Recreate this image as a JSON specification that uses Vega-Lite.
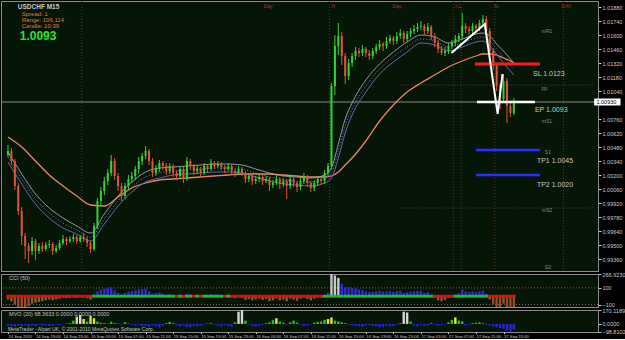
{
"$schema":"https://vega.github.io/schema/vega-lite/v6.json",
"padding":0,
"background":"#000000",
"spacing":3,
"bounds":"flush",
"config":{"view":{"fill":"#061606","stroke":"#8c8c8c","strokeWidth":1},"axis":{"labelFont":"Liberation Sans","labelColor":"#c8c8c8","tickColor":"#c8c8c8","domainColor":"#8c8c8c","grid":false,"labelFontSize":6,"tickSize":3,"labelPadding":1,"labelOverlap":false},"text":{"font":"Liberation Sans"}},
"datasets":{
"bars":[
{"t":"2010-09-14T15:00","o":1.0040,"h":1.0050,"l":1.0038,"c":1.0044,"cci":-40,"mvo":-20},
{"t":"2010-09-14T15:30","o":1.0044,"h":1.0047,"l":1.0030,"c":1.0034,"cci":-60,"mvo":-25},
{"t":"2010-09-14T16:00","o":1.0034,"h":1.0036,"l":1.0005,"c":1.0009,"cci":-100,"mvo":-30},
{"t":"2010-09-14T16:30","o":1.0009,"h":1.0012,"l":0.9980,"c":0.9984,"cci":-130,"mvo":-20},
{"t":"2010-09-14T17:00","o":0.9984,"h":0.9988,"l":0.9950,"c":0.9959,"cci":-150,"mvo":-25},
{"t":"2010-09-14T17:30","o":0.9959,"h":0.9962,"l":0.9936,"c":0.9949,"cci":-140,"mvo":-15},
{"t":"2010-09-14T18:00","o":0.9949,"h":0.9952,"l":0.9932,"c":0.9944,"cci":-120,"mvo":-30},
{"t":"2010-09-14T18:30","o":0.9944,"h":0.9958,"l":0.9940,"c":0.9954,"cci":-90,"mvo":-20},
{"t":"2010-09-14T19:00","o":0.9954,"h":0.9956,"l":0.9935,"c":0.9944,"cci":-80,"mvo":-25},
{"t":"2010-09-14T19:30","o":0.9944,"h":0.9952,"l":0.9941,"c":0.9949,"cci":-70,"mvo":-10},
{"t":"2010-09-14T20:00","o":0.9949,"h":0.9953,"l":0.9943,"c":0.9946,"cci":-60,"mvo":-20},
{"t":"2010-09-14T20:30","o":0.9946,"h":0.9953,"l":0.9944,"c":0.9950,"cci":-50,"mvo":-15},
{"t":"2010-09-14T21:00","o":0.9950,"h":0.9955,"l":0.9947,"c":0.9951,"cci":-40,"mvo":-25},
{"t":"2010-09-14T21:30","o":0.9951,"h":0.9953,"l":0.9940,"c":0.9944,"cci":-50,"mvo":-20},
{"t":"2010-09-14T22:00","o":0.9944,"h":0.9950,"l":0.9942,"c":0.9947,"cci":-40,"mvo":-10},
{"t":"2010-09-14T22:30","o":0.9947,"h":0.9955,"l":0.9945,"c":0.9952,"cci":-30,"mvo":-15},
{"t":"2010-09-14T23:00","o":0.9952,"h":0.9960,"l":0.9950,"c":0.9956,"cci":-20,"mvo":-5},
{"t":"2010-09-14T23:30","o":0.9956,"h":0.9958,"l":0.9950,"c":0.9954,"cci":-25,"mvo":5},
{"t":"2010-09-15T00:00","o":0.9954,"h":0.9959,"l":0.9952,"c":0.9956,"cci":-20,"mvo":10},
{"t":"2010-09-15T00:30","o":0.9956,"h":0.9961,"l":0.9953,"c":0.9958,"cci":-15,"mvo":40},
{"t":"2010-09-15T01:00","o":0.9958,"h":0.9960,"l":0.9951,"c":0.9954,"cci":-20,"mvo":90},
{"t":"2010-09-15T01:30","o":0.9954,"h":0.9960,"l":0.9952,"c":0.9958,"cci":-10,"mvo":110},
{"t":"2010-09-15T02:00","o":0.9958,"h":0.9962,"l":0.9953,"c":0.9956,"cci":-15,"mvo":60},
{"t":"2010-09-15T02:30","o":0.9956,"h":0.9958,"l":0.9948,"c":0.9952,"cci":-25,"mvo":30},
{"t":"2010-09-15T03:00","o":0.9952,"h":0.9954,"l":0.9942,"c":0.9946,"cci":-40,"mvo":100},
{"t":"2010-09-15T03:30","o":0.9946,"h":0.9972,"l":0.9944,"c":0.9969,"cci":20,"mvo":70},
{"t":"2010-09-15T04:00","o":0.9969,"h":0.9997,"l":0.9966,"c":0.9994,"cci":60,"mvo":30},
{"t":"2010-09-15T04:30","o":0.9994,"h":1.0008,"l":0.9990,"c":1.0004,"cci":80,"mvo":15},
{"t":"2010-09-15T05:00","o":1.0004,"h":1.0018,"l":1.0000,"c":1.0014,"cci":90,"mvo":10},
{"t":"2010-09-15T05:30","o":1.0014,"h":1.0026,"l":1.0010,"c":1.0022,"cci":100,"mvo":5},
{"t":"2010-09-15T06:00","o":1.0022,"h":1.0040,"l":1.0019,"c":1.0034,"cci":110,"mvo":25},
{"t":"2010-09-15T06:30","o":1.0034,"h":1.0037,"l":1.0015,"c":1.0019,"cci":70,"mvo":10},
{"t":"2010-09-15T07:00","o":1.0019,"h":1.0022,"l":1.0004,"c":1.0009,"cci":40,"mvo":5},
{"t":"2010-09-15T07:30","o":1.0009,"h":1.0012,"l":0.9994,"c":0.9999,"cci":20,"mvo":-10},
{"t":"2010-09-15T08:00","o":0.9999,"h":1.0012,"l":0.9996,"c":1.0009,"cci":40,"mvo":20},
{"t":"2010-09-15T08:30","o":1.0009,"h":1.0020,"l":1.0005,"c":1.0016,"cci":55,"mvo":5},
{"t":"2010-09-15T09:00","o":1.0016,"h":1.0023,"l":1.0012,"c":1.0019,"cci":60,"mvo":-10},
{"t":"2010-09-15T09:30","o":1.0019,"h":1.0029,"l":1.0015,"c":1.0026,"cci":70,"mvo":-20},
{"t":"2010-09-15T10:00","o":1.0026,"h":1.0038,"l":1.0022,"c":1.0034,"cci":80,"mvo":-15},
{"t":"2010-09-15T10:30","o":1.0034,"h":1.0042,"l":1.0030,"c":1.0039,"cci":85,"mvo":-30},
{"t":"2010-09-15T11:00","o":1.0039,"h":1.0049,"l":1.0036,"c":1.0044,"cci":90,"mvo":-25},
{"t":"2010-09-15T11:30","o":1.0044,"h":1.0046,"l":1.0030,"c":1.0034,"cci":60,"mvo":-35},
{"t":"2010-09-15T12:00","o":1.0034,"h":1.0037,"l":1.0018,"c":1.0022,"cci":30,"mvo":-20},
{"t":"2010-09-15T12:30","o":1.0022,"h":1.0030,"l":1.0019,"c":1.0026,"cci":35,"mvo":-30},
{"t":"2010-09-15T13:00","o":1.0026,"h":1.0035,"l":1.0023,"c":1.0032,"cci":45,"mvo":-40},
{"t":"2010-09-15T13:30","o":1.0032,"h":1.0034,"l":1.0025,"c":1.0029,"cci":30,"mvo":-25},
{"t":"2010-09-15T14:00","o":1.0029,"h":1.0032,"l":1.0020,"c":1.0024,"cci":15,"mvo":10},
{"t":"2010-09-15T14:30","o":1.0024,"h":1.0032,"l":1.0021,"c":1.0029,"cci":25,"mvo":25},
{"t":"2010-09-15T15:00","o":1.0029,"h":1.0031,"l":1.0018,"c":1.0022,"cci":5,"mvo":10},
{"t":"2010-09-15T15:30","o":1.0022,"h":1.0025,"l":1.0015,"c":1.0019,"cci":-10,"mvo":-15},
{"t":"2010-09-15T16:00","o":1.0019,"h":1.0029,"l":1.0016,"c":1.0026,"cci":10,"mvo":-30},
{"t":"2010-09-15T16:30","o":1.0026,"h":1.0028,"l":1.0012,"c":1.0016,"cci":-20,"mvo":-20},
{"t":"2010-09-15T17:00","o":1.0016,"h":1.0038,"l":1.0014,"c":1.0034,"cci":30,"mvo":-35},
{"t":"2010-09-15T17:30","o":1.0034,"h":1.0036,"l":1.0026,"c":1.0029,"cci":20,"mvo":-40},
{"t":"2010-09-15T18:00","o":1.0029,"h":1.0031,"l":1.0020,"c":1.0024,"cci":0,"mvo":-25},
{"t":"2010-09-15T18:30","o":1.0024,"h":1.0030,"l":1.0021,"c":1.0026,"cci":5,"mvo":-30},
{"t":"2010-09-15T19:00","o":1.0026,"h":1.0028,"l":1.0018,"c":1.0022,"cci":-10,"mvo":-20},
{"t":"2010-09-15T19:30","o":1.0022,"h":1.0032,"l":1.0020,"c":1.0029,"cci":15,"mvo":-10},
{"t":"2010-09-15T20:00","o":1.0029,"h":1.0031,"l":1.0022,"c":1.0026,"cci":5,"mvo":5},
{"t":"2010-09-15T20:30","o":1.0026,"h":1.0036,"l":1.0024,"c":1.0032,"cci":25,"mvo":10},
{"t":"2010-09-15T21:00","o":1.0032,"h":1.0034,"l":1.0026,"c":1.0029,"cci":15,"mvo":-10},
{"t":"2010-09-15T21:30","o":1.0029,"h":1.0034,"l":1.0027,"c":1.0031,"cci":20,"mvo":-20},
{"t":"2010-09-15T22:00","o":1.0031,"h":1.0033,"l":1.0025,"c":1.0028,"cci":5,"mvo":-30},
{"t":"2010-09-15T22:30","o":1.0028,"h":1.0030,"l":1.0022,"c":1.0026,"cci":-5,"mvo":-15},
{"t":"2010-09-15T23:00","o":1.0026,"h":1.0032,"l":1.0024,"c":1.0029,"cci":10,"mvo":-25},
{"t":"2010-09-15T23:30","o":1.0029,"h":1.0031,"l":1.0020,"c":1.0024,"cci":-15,"mvo":-35},
{"t":"2010-09-16T00:00","o":1.0024,"h":1.0026,"l":1.0018,"c":1.0022,"cci":-25,"mvo":20},
{"t":"2010-09-16T00:30","o":1.0022,"h":1.0029,"l":1.0020,"c":1.0026,"cci":-10,"mvo":150},
{"t":"2010-09-16T01:00","o":1.0026,"h":1.0028,"l":1.0019,"c":1.0022,"cci":-20,"mvo":170},
{"t":"2010-09-16T01:30","o":1.0022,"h":1.0024,"l":1.0012,"c":1.0016,"cci":-45,"mvo":40},
{"t":"2010-09-16T02:00","o":1.0016,"h":1.0022,"l":1.0013,"c":1.0019,"cci":-35,"mvo":-10},
{"t":"2010-09-16T02:30","o":1.0019,"h":1.0021,"l":1.0010,"c":1.0014,"cci":-50,"mvo":-25},
{"t":"2010-09-16T03:00","o":1.0014,"h":1.0019,"l":1.0011,"c":1.0016,"cci":-40,"mvo":-30},
{"t":"2010-09-16T03:30","o":1.0016,"h":1.0021,"l":1.0013,"c":1.0018,"cci":-30,"mvo":-20},
{"t":"2010-09-16T04:00","o":1.0018,"h":1.0020,"l":1.0010,"c":1.0014,"cci":-45,"mvo":-15},
{"t":"2010-09-16T04:30","o":1.0014,"h":1.0019,"l":1.0012,"c":1.0016,"cci":-35,"mvo":10},
{"t":"2010-09-16T05:00","o":1.0016,"h":1.0018,"l":1.0004,"c":1.0010,"cci":-60,"mvo":20},
{"t":"2010-09-16T05:30","o":1.0010,"h":1.0015,"l":1.0007,"c":1.0012,"cci":-50,"mvo":45},
{"t":"2010-09-16T06:00","o":1.0012,"h":1.0020,"l":1.0010,"c":1.0016,"cci":-30,"mvo":70},
{"t":"2010-09-16T06:30","o":1.0016,"h":1.0018,"l":1.0006,"c":1.0011,"cci":-50,"mvo":30},
{"t":"2010-09-16T07:00","o":1.0011,"h":1.0017,"l":1.0008,"c":1.0014,"cci":-40,"mvo":15},
{"t":"2010-09-16T07:30","o":1.0014,"h":1.0016,"l":0.9996,"c":1.0009,"cci":-60,"mvo":-10},
{"t":"2010-09-16T08:00","o":1.0009,"h":1.0019,"l":1.0006,"c":1.0016,"cci":-30,"mvo":20},
{"t":"2010-09-16T08:30","o":1.0016,"h":1.0018,"l":1.0008,"c":1.0012,"cci":-40,"mvo":40},
{"t":"2010-09-16T09:00","o":1.0012,"h":1.0014,"l":1.0003,"c":1.0008,"cci":-55,"mvo":15},
{"t":"2010-09-16T09:30","o":1.0008,"h":1.0017,"l":1.0005,"c":1.0014,"cci":-30,"mvo":-15},
{"t":"2010-09-16T10:00","o":1.0014,"h":1.0022,"l":1.0011,"c":1.0018,"cci":-15,"mvo":-25},
{"t":"2010-09-16T10:30","o":1.0018,"h":1.0020,"l":1.0008,"c":1.0012,"cci":-35,"mvo":-20},
{"t":"2010-09-16T11:00","o":1.0012,"h":1.0014,"l":1.0003,"c":1.0007,"cci":-50,"mvo":-10},
{"t":"2010-09-16T11:30","o":1.0007,"h":1.0015,"l":1.0004,"c":1.0012,"cci":-30,"mvo":15},
{"t":"2010-09-16T12:00","o":1.0012,"h":1.0019,"l":1.0009,"c":1.0016,"cci":-15,"mvo":25},
{"t":"2010-09-16T12:30","o":1.0016,"h":1.0018,"l":1.0010,"c":1.0014,"cci":-20,"mvo":30},
{"t":"2010-09-16T13:00","o":1.0014,"h":1.0025,"l":1.0011,"c":1.0022,"cci":15,"mvo":50},
{"t":"2010-09-16T13:30","o":1.0022,"h":1.0032,"l":1.0019,"c":1.0029,"cci":40,"mvo":60},
{"t":"2010-09-16T14:00","o":1.0029,"h":1.0112,"l":1.0025,"c":1.0109,"cci":267,"mvo":80},
{"t":"2010-09-16T14:30","o":1.0109,"h":1.0160,"l":1.0100,"c":1.0149,"cci":250,"mvo":40},
{"t":"2010-09-16T15:00","o":1.0149,"h":1.0172,"l":1.0140,"c":1.0159,"cci":220,"mvo":30},
{"t":"2010-09-16T15:30","o":1.0159,"h":1.0163,"l":1.0130,"c":1.0139,"cci":150,"mvo":20},
{"t":"2010-09-16T16:00","o":1.0139,"h":1.0142,"l":1.0111,"c":1.0119,"cci":110,"mvo":10},
{"t":"2010-09-16T16:30","o":1.0119,"h":1.0136,"l":1.0115,"c":1.0132,"cci":110,"mvo":-10},
{"t":"2010-09-16T17:00","o":1.0132,"h":1.0142,"l":1.0128,"c":1.0139,"cci":100,"mvo":-20},
{"t":"2010-09-16T17:30","o":1.0139,"h":1.0148,"l":1.0135,"c":1.0144,"cci":95,"mvo":-25},
{"t":"2010-09-16T18:00","o":1.0144,"h":1.0147,"l":1.0138,"c":1.0142,"cci":80,"mvo":-30},
{"t":"2010-09-16T18:30","o":1.0142,"h":1.0150,"l":1.0139,"c":1.0146,"cci":75,"mvo":-35},
{"t":"2010-09-16T19:00","o":1.0146,"h":1.0148,"l":1.0138,"c":1.0142,"cci":60,"mvo":-20},
{"t":"2010-09-16T19:30","o":1.0142,"h":1.0145,"l":1.0135,"c":1.0139,"cci":50,"mvo":-15},
{"t":"2010-09-16T20:00","o":1.0139,"h":1.0147,"l":1.0136,"c":1.0144,"cci":55,"mvo":-25},
{"t":"2010-09-16T20:30","o":1.0144,"h":1.0151,"l":1.0141,"c":1.0148,"cci":60,"mvo":-30},
{"t":"2010-09-16T21:00","o":1.0148,"h":1.0155,"l":1.0145,"c":1.0151,"cci":65,"mvo":-40},
{"t":"2010-09-16T21:30","o":1.0151,"h":1.0153,"l":1.0144,"c":1.0149,"cci":55,"mvo":-35},
{"t":"2010-09-16T22:00","o":1.0149,"h":1.0158,"l":1.0146,"c":1.0154,"cci":60,"mvo":-20},
{"t":"2010-09-16T22:30","o":1.0154,"h":1.0160,"l":1.0151,"c":1.0157,"cci":65,"mvo":-30},
{"t":"2010-09-16T23:00","o":1.0157,"h":1.0159,"l":1.0150,"c":1.0154,"cci":50,"mvo":-25},
{"t":"2010-09-16T23:30","o":1.0154,"h":1.0163,"l":1.0151,"c":1.0159,"cci":60,"mvo":-10},
{"t":"2010-09-17T00:00","o":1.0159,"h":1.0166,"l":1.0156,"c":1.0162,"cci":65,"mvo":10},
{"t":"2010-09-17T00:30","o":1.0162,"h":1.0164,"l":1.0152,"c":1.0156,"cci":40,"mvo":150},
{"t":"2010-09-17T01:00","o":1.0156,"h":1.0164,"l":1.0153,"c":1.0161,"cci":50,"mvo":140},
{"t":"2010-09-17T01:30","o":1.0161,"h":1.0167,"l":1.0158,"c":1.0164,"cci":55,"mvo":30},
{"t":"2010-09-17T02:00","o":1.0164,"h":1.0170,"l":1.0161,"c":1.0166,"cci":60,"mvo":-20},
{"t":"2010-09-17T02:30","o":1.0166,"h":1.0172,"l":1.0163,"c":1.0168,"cci":65,"mvo":-30},
{"t":"2010-09-17T03:00","o":1.0168,"h":1.0174,"l":1.0165,"c":1.0169,"cci":65,"mvo":-15},
{"t":"2010-09-17T03:30","o":1.0169,"h":1.0171,"l":1.0160,"c":1.0164,"cci":40,"mvo":-25},
{"t":"2010-09-17T04:00","o":1.0164,"h":1.0172,"l":1.0161,"c":1.0168,"cci":50,"mvo":-20},
{"t":"2010-09-17T04:30","o":1.0168,"h":1.0170,"l":1.0155,"c":1.0159,"cci":20,"mvo":10},
{"t":"2010-09-17T05:00","o":1.0159,"h":1.0162,"l":1.0148,"c":1.0152,"cci":-20,"mvo":-10},
{"t":"2010-09-17T05:30","o":1.0152,"h":1.0155,"l":1.0142,"c":1.0146,"cci":-50,"mvo":-20},
{"t":"2010-09-17T06:00","o":1.0146,"h":1.0149,"l":1.0140,"c":1.0142,"cci":-60,"mvo":-15},
{"t":"2010-09-17T06:30","o":1.0142,"h":1.0148,"l":1.0139,"c":1.0144,"cci":-45,"mvo":-10},
{"t":"2010-09-17T07:00","o":1.0144,"h":1.0152,"l":1.0141,"c":1.0149,"cci":-20,"mvo":20},
{"t":"2010-09-17T07:30","o":1.0149,"h":1.0155,"l":1.0146,"c":1.0152,"cci":0,"mvo":50},
{"t":"2010-09-17T08:00","o":1.0152,"h":1.0160,"l":1.0149,"c":1.0156,"cci":20,"mvo":80},
{"t":"2010-09-17T08:30","o":1.0156,"h":1.0162,"l":1.0153,"c":1.0159,"cci":35,"mvo":40},
{"t":"2010-09-17T09:00","o":1.0159,"h":1.0182,"l":1.0155,"c":1.0169,"cci":80,"mvo":30},
{"t":"2010-09-17T09:30","o":1.0169,"h":1.0172,"l":1.0162,"c":1.0166,"cci":60,"mvo":-20},
{"t":"2010-09-17T10:00","o":1.0166,"h":1.0169,"l":1.0160,"c":1.0164,"cci":50,"mvo":-10},
{"t":"2010-09-17T10:30","o":1.0164,"h":1.0172,"l":1.0161,"c":1.0169,"cci":60,"mvo":10},
{"t":"2010-09-17T11:00","o":1.0169,"h":1.0171,"l":1.0163,"c":1.0167,"cci":50,"mvo":15},
{"t":"2010-09-17T11:30","o":1.0167,"h":1.0175,"l":1.0164,"c":1.0172,"cci":60,"mvo":20},
{"t":"2010-09-17T12:00","o":1.0172,"h":1.0180,"l":1.0169,"c":1.0176,"cci":70,"mvo":10},
{"t":"2010-09-17T12:30","o":1.0176,"h":1.0179,"l":1.0160,"c":1.0164,"cci":30,"mvo":-10},
{"t":"2010-09-17T13:00","o":1.0164,"h":1.0167,"l":1.0140,"c":1.0144,"cci":-40,"mvo":-20},
{"t":"2010-09-17T13:30","o":1.0144,"h":1.0147,"l":1.0125,"c":1.0129,"cci":-100,"mvo":-30},
{"t":"2010-09-17T14:00","o":1.0129,"h":1.0132,"l":1.0104,"c":1.0109,"cci":-150,"mvo":-40},
{"t":"2010-09-17T14:30","o":1.0109,"h":1.0112,"l":1.0086,"c":1.0096,"cci":-160,"mvo":-50},
{"t":"2010-09-17T15:00","o":1.0096,"h":1.0121,"l":1.0093,"c":1.0114,"cci":-90,"mvo":-60},
{"t":"2010-09-17T15:30","o":1.0114,"h":1.0117,"l":1.0072,"c":1.0089,"cci":-150,"mvo":-80},
{"t":"2010-09-17T16:00","o":1.0089,"h":1.0094,"l":1.0078,"c":1.0082,"cci":-155,"mvo":-95},
{"t":"2010-09-17T16:30","o":1.0082,"h":1.0097,"l":1.0080,"c":1.0093,"cci":-130,"mvo":-70}
],
"ma":[
{"t":"2010-09-14T15:00","slow":1.0058,"up":1.0043,"mid":1.0038,"lo":1.0033},
{"t":"2010-09-14T17:00","slow":1.0048,"up":1.0021,"mid":1.0016,"lo":1.0011},
{"t":"2010-09-14T19:00","slow":1.0034,"up":1.0001,"mid":0.9996,"lo":0.9991},
{"t":"2010-09-14T21:00","slow":1.0020,"up":0.9987,"mid":0.9982,"lo":0.9977},
{"t":"2010-09-14T23:00","slow":1.0009,"up":0.9977,"mid":0.9972,"lo":0.9967},
{"t":"2010-09-15T01:00","slow":0.9999,"up":0.9969,"mid":0.9965,"lo":0.9961},
{"t":"2010-09-15T03:00","slow":0.9990,"up":0.9962,"mid":0.9958,"lo":0.9954},
{"t":"2010-09-15T05:00","slow":0.9989,"up":0.9981,"mid":0.9976,"lo":0.9971},
{"t":"2010-09-15T07:00","slow":0.9998,"up":0.9999,"mid":0.9994,"lo":0.9989},
{"t":"2010-09-15T09:00","slow":1.0007,"up":1.0013,"mid":1.0008,"lo":1.0003},
{"t":"2010-09-15T11:00","slow":1.0012,"up":1.0023,"mid":1.0018,"lo":1.0013},
{"t":"2010-09-15T13:00","slow":1.0015,"up":1.0027,"mid":1.0022,"lo":1.0017},
{"t":"2010-09-15T15:00","slow":1.0016,"up":1.0028,"mid":1.0024,"lo":1.0020},
{"t":"2010-09-15T17:00","slow":1.0017,"up":1.0029,"mid":1.0025,"lo":1.0021},
{"t":"2010-09-15T19:00","slow":1.0018,"up":1.0030,"mid":1.0026,"lo":1.0022},
{"t":"2010-09-15T21:00","slow":1.0019,"up":1.0031,"mid":1.0027,"lo":1.0023},
{"t":"2010-09-15T23:00","slow":1.0020,"up":1.0031,"mid":1.0027,"lo":1.0023},
{"t":"2010-09-16T01:00","slow":1.0021,"up":1.0030,"mid":1.0026,"lo":1.0022},
{"t":"2010-09-16T03:00","slow":1.0021,"up":1.0026,"mid":1.0022,"lo":1.0018},
{"t":"2010-09-16T05:00","slow":1.0021,"up":1.0022,"mid":1.0018,"lo":1.0014},
{"t":"2010-09-16T07:00","slow":1.0020,"up":1.0019,"mid":1.0015,"lo":1.0011},
{"t":"2010-09-16T09:00","slow":1.0019,"up":1.0018,"mid":1.0014,"lo":1.0010},
{"t":"2010-09-16T11:00","slow":1.0018,"up":1.0017,"mid":1.0013,"lo":1.0009},
{"t":"2010-09-16T13:00","slow":1.0018,"up":1.0020,"mid":1.0016,"lo":1.0012},
{"t":"2010-09-16T14:00","slow":1.0019,"up":1.0027,"mid":1.0022,"lo":1.0017},
{"t":"2010-09-16T15:00","slow":1.0023,"up":1.0051,"mid":1.0044,"lo":1.0037},
{"t":"2010-09-16T16:00","slow":1.0030,"up":1.0076,"mid":1.0069,"lo":1.0062},
{"t":"2010-09-16T17:00","slow":1.0037,"up":1.0092,"mid":1.0086,"lo":1.0080},
{"t":"2010-09-16T19:00","slow":1.0054,"up":1.0115,"mid":1.0109,"lo":1.0103},
{"t":"2010-09-16T21:00","slow":1.0074,"up":1.0131,"mid":1.0126,"lo":1.0121},
{"t":"2010-09-16T23:00","slow":1.0090,"up":1.0143,"mid":1.0138,"lo":1.0133},
{"t":"2010-09-17T01:00","slow":1.0103,"up":1.0153,"mid":1.0148,"lo":1.0143},
{"t":"2010-09-17T03:00","slow":1.0112,"up":1.0160,"mid":1.0156,"lo":1.0152},
{"t":"2010-09-17T05:00","slow":1.0120,"up":1.0158,"mid":1.0154,"lo":1.0150},
{"t":"2010-09-17T07:00","slow":1.0128,"up":1.0152,"mid":1.0148,"lo":1.0144},
{"t":"2010-09-17T09:00","slow":1.0134,"up":1.0156,"mid":1.0152,"lo":1.0148},
{"t":"2010-09-17T11:00","slow":1.0139,"up":1.0161,"mid":1.0157,"lo":1.0153},
{"t":"2010-09-17T12:00","slow":1.0141,"up":1.0162,"mid":1.0158,"lo":1.0154},
{"t":"2010-09-17T13:00","slow":1.0141,"up":1.0159,"mid":1.0154,"lo":1.0149},
{"t":"2010-09-17T14:00","slow":1.0140,"up":1.0151,"mid":1.0146,"lo":1.0141},
{"t":"2010-09-17T15:00","slow":1.0137,"up":1.0144,"mid":1.0138,"lo":1.0132},
{"t":"2010-09-17T16:00","slow":1.0134,"up":1.0136,"mid":1.0130,"lo":1.0124},
{"t":"2010-09-17T16:30","slow":1.0132,"up":1.0132,"mid":1.0126,"lo":1.0120}
]
},
"vconcat":[
{"width":597,"height":270,
"resolve":{"axis":{"x":"independent","y":"independent"}},
"layer":[
{"data":{"values":[{"t":"2010-09-15T01:43"},{"t":"2010-09-16T13:43"},{"t":"2010-09-17T07:43"},{"t":"2010-09-17T08:51"},{"t":"2010-09-17T13:43"},{"t":"2010-09-17T23:43"}]},
 "mark":{"type":"rule","color":"#5a3622","strokeDash":[1,2],"strokeWidth":1},
 "encoding":{"x":{"field":"t","type":"temporal","scale":{"domain":[{"year":2010,"month":"Sep","date":14,"hours":14,"minutes":43},{"year":2010,"month":"Sep","date":18,"hours":4}]},"axis":null}}},
{"data":{"values":[{"t":"2010-09-17T00:00","t2":"2010-09-18T04:00","p":1.0110}]},
 "mark":{"type":"rule","color":"#7a22b0","strokeDash":[1,2],"strokeWidth":1},
 "encoding":{"x":{"field":"t","type":"temporal","scale":{"domain":[{"year":2010,"month":"Sep","date":14,"hours":14,"minutes":43},{"year":2010,"month":"Sep","date":18,"hours":4}]},"axis":null},"x2":{"field":"t2"},"y":{"field":"p","type":"quantitative","scale":{"domain":[0.9924,1.0194]},"axis":null}}},
{"data":{"values":[{"t":"2010-09-17T00:00","t2":"2010-09-18T04:00","p":0.9987}]},
 "mark":{"type":"rule","color":"#4a4a4a","strokeDash":[1,2],"strokeWidth":1},
 "encoding":{"x":{"field":"t","type":"temporal","scale":{"domain":[{"year":2010,"month":"Sep","date":14,"hours":14,"minutes":43},{"year":2010,"month":"Sep","date":18,"hours":4}]},"axis":null},"x2":{"field":"t2"},"y":{"field":"p","type":"quantitative","scale":{"domain":[0.9924,1.0194]},"axis":null}}},
{"data":{"values":[{"p":1.0093}]},
 "mark":{"type":"rule","color":"#8a8a8a","strokeWidth":1},
 "encoding":{"y":{"field":"p","type":"quantitative","scale":{"domain":[0.9924,1.0194]},"axis":null}}},
{"data":{"name":"ma"},"mark":{"type":"line","color":"#ec8462","strokeWidth":1.3,"interpolate":"monotone"},
 "encoding":{"x":{"field":"t","type":"temporal","scale":{"domain":[{"year":2010,"month":"Sep","date":14,"hours":14,"minutes":43},{"year":2010,"month":"Sep","date":18,"hours":4}]},"axis":null},"y":{"field":"slow","type":"quantitative","scale":{"domain":[0.9924,1.0194]},"axis":null}}},
{"data":{"name":"ma"},"mark":{"type":"line","color":"#a4a4b4","strokeWidth":0.9,"interpolate":"monotone"},
 "encoding":{"x":{"field":"t","type":"temporal","scale":{"domain":[{"year":2010,"month":"Sep","date":14,"hours":14,"minutes":43},{"year":2010,"month":"Sep","date":18,"hours":4}]},"axis":null},"y":{"field":"up","type":"quantitative","scale":{"domain":[0.9924,1.0194]},"axis":null}}},
{"data":{"name":"ma"},"mark":{"type":"line","color":"#8c8cd0","strokeWidth":0.9,"strokeDash":[1,2],"interpolate":"monotone"},
 "encoding":{"x":{"field":"t","type":"temporal","scale":{"domain":[{"year":2010,"month":"Sep","date":14,"hours":14,"minutes":43},{"year":2010,"month":"Sep","date":18,"hours":4}]},"axis":null},"y":{"field":"mid","type":"quantitative","scale":{"domain":[0.9924,1.0194]},"axis":null}}},
{"data":{"name":"ma"},"mark":{"type":"line","color":"#6e6ed2","strokeWidth":0.9,"interpolate":"monotone"},
 "encoding":{"x":{"field":"t","type":"temporal","scale":{"domain":[{"year":2010,"month":"Sep","date":14,"hours":14,"minutes":43},{"year":2010,"month":"Sep","date":18,"hours":4}]},"axis":null},"y":{"field":"lo","type":"quantitative","scale":{"domain":[0.9924,1.0194]},"axis":null}}},
{"data":{"name":"bars"},"mark":{"type":"rule","strokeWidth":1},
 "encoding":{"x":{"field":"t","type":"temporal","scale":{"domain":[{"year":2010,"month":"Sep","date":14,"hours":14,"minutes":43},{"year":2010,"month":"Sep","date":18,"hours":4}]},"axis":null},"y":{"field":"l","type":"quantitative","scale":{"domain":[0.9924,1.0194]},"axis":null},"y2":{"field":"h"},
  "color":{"condition":{"test":"datum.c >= datum.o","value":"#34d234"},"value":"#e2553a"}}},
{"data":{"name":"bars"},"mark":{"type":"bar","size":2},
 "encoding":{"x":{"field":"t","type":"temporal","scale":{"domain":[{"year":2010,"month":"Sep","date":14,"hours":14,"minutes":43},{"year":2010,"month":"Sep","date":18,"hours":4}]},"axis":null},
  "y":{"field":"o","type":"quantitative","scale":{"domain":[0.9924,1.0194]},"title":null,"axis":{"orient":"right","title":null,"values":[1.0188,1.0174,1.016,1.0146,1.0132,1.0118,1.0104,1.0076,1.0062,1.0048,1.0034,1.002,1.0006,0.9992,0.9978,0.9964,0.995,0.9936],"format":".5f","labelOverlap":false,"labelFontSize":5.5}},"y2":{"field":"c"},
  "color":{"condition":{"test":"datum.c >= datum.o","value":"#34d234"},"value":"#e2553a"}}},
{"data":{"values":[{"t":"2010-09-17T10:51","t2":"2010-09-17T20:17","p":1.0131}]},
 "mark":{"type":"rule","color":"#ff1a1a","strokeWidth":3},
 "encoding":{"x":{"field":"t","type":"temporal","scale":{"domain":[{"year":2010,"month":"Sep","date":14,"hours":14,"minutes":43},{"year":2010,"month":"Sep","date":18,"hours":4}]},"axis":null},"x2":{"field":"t2"},"y":{"field":"p","type":"quantitative","scale":{"domain":[0.9924,1.0194]},"axis":null}}},
{"data":{"values":[{"t":"2010-09-17T11:09","t2":"2010-09-17T19:34","p":1.0093}]},
 "mark":{"type":"rule","color":"#ffffff","strokeWidth":2.5},
 "encoding":{"x":{"field":"t","type":"temporal","scale":{"domain":[{"year":2010,"month":"Sep","date":14,"hours":14,"minutes":43},{"year":2010,"month":"Sep","date":18,"hours":4}]},"axis":null},"x2":{"field":"t2"},"y":{"field":"p","type":"quantitative","scale":{"domain":[0.9924,1.0194]},"axis":null}}},
{"data":{"values":[{"t":"2010-09-17T11:00","t2":"2010-09-17T20:17","p":1.0045},{"t":"2010-09-17T11:00","t2":"2010-09-17T20:17","p":1.0020}]},
 "mark":{"type":"rule","color":"#2233ff","strokeWidth":2.5},
 "encoding":{"x":{"field":"t","type":"temporal","scale":{"domain":[{"year":2010,"month":"Sep","date":14,"hours":14,"minutes":43},{"year":2010,"month":"Sep","date":18,"hours":4}]},"axis":null},"x2":{"field":"t2"},"y":{"field":"p","type":"quantitative","scale":{"domain":[0.9924,1.0194]},"axis":null}}},
{"data":{"values":[{"t":"2010-09-17T07:26","p":1.0142},{"t":"2010-09-17T12:17","p":1.0171},{"t":"2010-09-17T14:09","p":1.0081},{"t":"2010-09-17T14:51","p":1.0121}]},
 "mark":{"type":"line","color":"#ffffff","strokeWidth":2},
 "encoding":{"x":{"field":"t","type":"temporal","scale":{"domain":[{"year":2010,"month":"Sep","date":14,"hours":14,"minutes":43},{"year":2010,"month":"Sep","date":18,"hours":4}]},"axis":null},"y":{"field":"p","type":"quantitative","scale":{"domain":[0.9924,1.0194]},"axis":null}}},
{"data":{"values":[{"t":"2010-09-17T19:17","p":1.0121,"label":"SL 1.0123"},{"t":"2010-09-17T19:34","p":1.0085,"label":"EP 1.0093"},{"t":"2010-09-17T19:51","p":1.0034,"label":"TP1 1.0045"},{"t":"2010-09-17T19:51","p":1.0010,"label":"TP2 1.0020"}]},
 "mark":{"type":"text","align":"left","baseline":"middle","fontSize":7,"color":"#c8c8c8"},
 "encoding":{"x":{"field":"t","type":"temporal","scale":{"domain":[{"year":2010,"month":"Sep","date":14,"hours":14,"minutes":43},{"year":2010,"month":"Sep","date":18,"hours":4}]},"axis":null},"y":{"field":"p","type":"quantitative","scale":{"domain":[0.9924,1.0194]},"axis":null},"text":{"field":"label"}}},
{"data":{"values":[{"t":"2010-09-17T20:34","p":1.0164,"label":"mR1"},{"t":"2010-09-17T20:34","p":1.0107,"label":"pp"},{"t":"2010-09-17T20:34","p":1.0074,"label":"mS1"},{"t":"2010-09-17T21:00","p":1.0043,"label":"S1"},{"t":"2010-09-17T20:34","p":0.9985,"label":"mS2"},{"t":"2010-09-17T21:00","p":0.9928,"label":"S2"}]},
 "mark":{"type":"text","align":"left","baseline":"middle","fontSize":5,"color":"#8a8a8a"},
 "encoding":{"x":{"field":"t","type":"temporal","scale":{"domain":[{"year":2010,"month":"Sep","date":14,"hours":14,"minutes":43},{"year":2010,"month":"Sep","date":18,"hours":4}]},"axis":null},"y":{"field":"p","type":"quantitative","scale":{"domain":[0.9924,1.0194]},"axis":null},"text":{"field":"label"}}},
{"data":{"values":[{"t":"2010-09-16T04:09","p":1.0189,"label":"Day"},{"t":"2010-09-16T14:00","p":1.0189,"label":"H"},{"t":"2010-09-16T22:51","p":1.0189,"label":"Day"},{"t":"2010-09-17T08:00","p":1.0189,"label":"I  L"},{"t":"2010-09-17T13:40","p":1.0189,"label":"N"},{"t":"2010-09-17T23:26","p":1.0189,"label":"DAY"}]},
 "mark":{"type":"text","align":"left","baseline":"middle","fontSize":5,"color":"#b83030"},
 "encoding":{"x":{"field":"t","type":"temporal","scale":{"domain":[{"year":2010,"month":"Sep","date":14,"hours":14,"minutes":43},{"year":2010,"month":"Sep","date":18,"hours":4}]},"axis":null},"y":{"field":"p","type":"quantitative","scale":{"domain":[0.9924,1.0194]},"axis":null},"text":{"field":"label"}}},
{"data":{"values":[{"t":"2010-09-14T16:26","p":1.01885,"label":"USDCHF  M15"}]},
 "mark":{"type":"text","align":"left","baseline":"middle","fontSize":6.5,"fontWeight":"bold","color":"#c8c8c8"},
 "encoding":{"x":{"field":"t","type":"temporal","scale":{"domain":[{"year":2010,"month":"Sep","date":14,"hours":14,"minutes":43},{"year":2010,"month":"Sep","date":18,"hours":4}]},"axis":null},"y":{"field":"p","type":"quantitative","scale":{"domain":[0.9924,1.0194]},"axis":null},"text":{"field":"label"}}},
{"data":{"values":[{"t":"2010-09-14T17:00","p":1.0181,"label":"Spread: 1"},{"t":"2010-09-14T17:00","p":1.0175,"label":"Range: 106,114"},{"t":"2010-09-14T17:00","p":1.0169,"label":"Candle: 10:39"}]},
 "mark":{"type":"text","align":"left","baseline":"middle","fontSize":6,"color":"#e07a3a"},
 "encoding":{"x":{"field":"t","type":"temporal","scale":{"domain":[{"year":2010,"month":"Sep","date":14,"hours":14,"minutes":43},{"year":2010,"month":"Sep","date":18,"hours":4}]},"axis":null},"y":{"field":"p","type":"quantitative","scale":{"domain":[0.9924,1.0194]},"axis":null},"text":{"field":"label"}}},
{"data":{"values":[{"t":"2010-09-14T16:43","p":1.01595,"label":"1.0093"}]},
 "mark":{"type":"text","align":"left","baseline":"middle","fontSize":12,"fontWeight":"bold","color":"#2ee02e"},
 "encoding":{"x":{"field":"t","type":"temporal","scale":{"domain":[{"year":2010,"month":"Sep","date":14,"hours":14,"minutes":43},{"year":2010,"month":"Sep","date":18,"hours":4}]},"axis":null},"y":{"field":"p","type":"quantitative","scale":{"domain":[0.9924,1.0194]},"axis":null},"text":{"field":"label"}}},
{"data":{"values":[{"t":"2010-09-18T04:10","t2":"2010-09-18T08:00","p":1.00965,"p2":1.00895}]},
 "mark":{"type":"rect","color":"#ffffff"},
 "encoding":{"x":{"field":"t","type":"temporal","scale":{"domain":[{"year":2010,"month":"Sep","date":14,"hours":14,"minutes":43},{"year":2010,"month":"Sep","date":18,"hours":4}]},"axis":null},"x2":{"field":"t2"},"y":{"field":"p","type":"quantitative","scale":{"domain":[0.9924,1.0194]},"axis":null},"y2":{"field":"p2"}}},
{"data":{"values":[{"t":"2010-09-18T04:30","p":1.0093,"label":"1.00930"}]},
 "mark":{"type":"text","align":"left","baseline":"middle","fontSize":5.5,"color":"#000000"},
 "encoding":{"x":{"field":"t","type":"temporal","scale":{"domain":[{"year":2010,"month":"Sep","date":14,"hours":14,"minutes":43},{"year":2010,"month":"Sep","date":18,"hours":4}]},"axis":null},"y":{"field":"p","type":"quantitative","scale":{"domain":[0.9924,1.0194]},"axis":null},"text":{"field":"label"}}}
]},
{"width":597,"height":33,
"resolve":{"axis":{"x":"independent","y":"independent"}},
"layer":[
{"data":{"values":[{"v":100},{"v":-100}]},
 "mark":{"type":"rule","color":"#6a6a6a","strokeDash":[1,2],"strokeWidth":1},
 "encoding":{"y":{"field":"v","type":"quantitative","scale":{"domain":[-130,267]},"axis":null}}},
{"data":{"name":"bars"},"mark":{"type":"bar","size":2.4,"clip":true},
 "encoding":{"x":{"field":"t","type":"temporal","scale":{"domain":[{"year":2010,"month":"Sep","date":14,"hours":14,"minutes":43},{"year":2010,"month":"Sep","date":18,"hours":4}]},"axis":null},
  "y":{"field":"cci","type":"quantitative","scale":{"domain":[-130,267]},"title":null,"axis":{"orient":"right","title":null,"values":[266.923,100,-100],"labelExpr":"datum.value > 200 ? '266.9230' : format(datum.value, 'd')","labelFontSize":5.5,"labelOverlap":false}},"y2":{"datum":0},
  "color":{"condition":[{"test":"datum.cci > 150","value":"#c8c8c8"},{"test":"datum.cci > 0","value":"#2b2bd8"},{"test":"datum.cci > -100","value":"#8a5a30"}],"value":"#9a4a26"}}},
{"data":{"name":"bars"},"mark":{"type":"bar","size":3.6},
 "encoding":{"x":{"field":"t","type":"temporal","scale":{"domain":[{"year":2010,"month":"Sep","date":14,"hours":14,"minutes":43},{"year":2010,"month":"Sep","date":18,"hours":4}]},"axis":null},
  "y":{"datum":-17,"type":"quantitative","scale":{"domain":[-130,267]},"axis":null},"y2":{"datum":17},
  "color":{"condition":{"test":"datum.cci > 0","value":"#22c022"},"value":"#e01010"}}},
{"data":{"values":[{"t":"2010-09-14T15:10","v":220,"label":"CCI  (50)"}]},
 "mark":{"type":"text","align":"left","baseline":"middle","fontSize":5.5,"color":"#c0c0c0"},
 "encoding":{"x":{"field":"t","type":"temporal","scale":{"domain":[{"year":2010,"month":"Sep","date":14,"hours":14,"minutes":43},{"year":2010,"month":"Sep","date":18,"hours":4}]},"axis":null},"y":{"field":"v","type":"quantitative","scale":{"domain":[-130,267]},"axis":null},"text":{"field":"label"}}}
]},
{"width":597,"height":22,
"resolve":{"axis":{"x":"independent","y":"independent"}},
"layer":[
{"data":{"name":"bars"},"mark":{"type":"bar","size":2.4,"clip":true},
 "encoding":{"x":{"field":"t","type":"temporal","scale":{"domain":[{"year":2010,"month":"Sep","date":14,"hours":14,"minutes":43},{"year":2010,"month":"Sep","date":18,"hours":4}]},"title":null,
   "axis":{"values":[{"year":2010,"month":"Sep","date":14,"hours":15},{"year":2010,"month":"Sep","date":14,"hours":19},{"year":2010,"month":"Sep","date":14,"hours":23},{"year":2010,"month":"Sep","date":15,"hours":3},{"year":2010,"month":"Sep","date":15,"hours":7},{"year":2010,"month":"Sep","date":15,"hours":11},{"year":2010,"month":"Sep","date":15,"hours":15},{"year":2010,"month":"Sep","date":15,"hours":19},{"year":2010,"month":"Sep","date":15,"hours":23},{"year":2010,"month":"Sep","date":16,"hours":3},{"year":2010,"month":"Sep","date":16,"hours":7},{"year":2010,"month":"Sep","date":16,"hours":11},{"year":2010,"month":"Sep","date":16,"hours":15},{"year":2010,"month":"Sep","date":16,"hours":19},{"year":2010,"month":"Sep","date":16,"hours":23},{"year":2010,"month":"Sep","date":17,"hours":3},{"year":2010,"month":"Sep","date":17,"hours":7},{"year":2010,"month":"Sep","date":17,"hours":11},{"year":2010,"month":"Sep","date":17,"hours":15}],
   "labelExpr":"timeFormat(datum.value, '%d %b %H:%M') == '14 Sep 15:00' ? '14 Sep 2010' : timeFormat(datum.value, '%d %b %H:%M')",
   "labelAlign":"left","labelFontSize":4.2,"tickSize":1.5,"labelPadding":0.5,"labelOverlap":false,"labelFlush":false,"labelBound":false,"domain":false,"title":null}},
  "y":{"field":"mvo","type":"quantitative","scale":{"domain":[-99,171]},"title":null,"axis":{"orient":"right","title":null,"values":[170.1189,0,-98.8102],"labelExpr":"format(datum.value, '.4f')","labelFontSize":5.5,"labelOverlap":false}},"y2":{"datum":0},
  "color":{"condition":[{"test":"datum.mvo > 100","value":"#d8d8d8"},{"test":"datum.mvo > 50","value":"#e8e820"},{"test":"datum.mvo > 0","value":"#22c822"}],"value":"#2424e0"}}},
{"data":{"values":[{"t":"2010-09-14T15:10","v":128,"label":"MVO (20) 68.3633 0.0000 0.0000 0.0000"}]},
 "mark":{"type":"text","align":"left","baseline":"middle","fontSize":5.5,"color":"#c0c0c0"},
 "encoding":{"x":{"field":"t","type":"temporal","scale":{"domain":[{"year":2010,"month":"Sep","date":14,"hours":14,"minutes":43},{"year":2010,"month":"Sep","date":18,"hours":4}]},"axis":null},"y":{"field":"v","type":"quantitative","scale":{"domain":[-99,171]},"axis":null},"text":{"field":"label"}}},
{"data":{"values":[{"t":"2010-09-14T15:00","v":-62,"label":"MetaTrader - Alpari UK, © 2001-2010 MetaQuotes Software Corp."}]},
 "mark":{"type":"text","align":"left","baseline":"middle","fontSize":5,"color":"#c0c0c0"},
 "encoding":{"x":{"field":"t","type":"temporal","scale":{"domain":[{"year":2010,"month":"Sep","date":14,"hours":14,"minutes":43},{"year":2010,"month":"Sep","date":18,"hours":4}]},"axis":null},"y":{"field":"v","type":"quantitative","scale":{"domain":[-99,171]},"axis":null},"text":{"field":"label"}}}
]}
]
}
